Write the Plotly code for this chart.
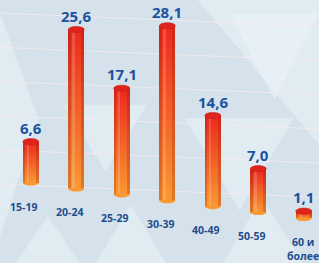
import plotly.graph_objects as go

# ---- data ----
categories = ["15-19", "20-24", "25-29", "30-39", "40-49", "50-59", "60 и<br>более"]
values = [6.6, 25.6, 17.1, 28.1, 14.6, 7.0, 1.1]
value_labels = ["6,6", "25,6", "17,1", "28,1", "14,6", "7,0", "1,1"]

# ---- style ----
SKEW = 0.95          # perspective drop of the floor per category (y units)
BAR_W = 0.35
CAP = 0.49           # half height of the cylinder ellipses (y units)
N_SEG = 24
TOP_RGB = (236, 40, 30)
BOT_RGB = (250, 152, 50)
BG = "#d5e2eb"
LABEL_BLUE = "#1b53a0"
CAT_BLUE = "#1f4d8c"

n = len(categories)
bases = [-SKEW * i for i in range(n)]
tops = [b + v for b, v in zip(bases, values)]
xs = list(range(n))


def mix(t):
    r = [round(BOT_RGB[k] + (TOP_RGB[k] - BOT_RGB[k]) * t) for k in range(3)]
    return f"rgb({r[0]},{r[1]},{r[2]})"


fig = go.Figure()

# gradient cylinders built from stacked slices
for j in range(N_SEG):
    t = (j + 0.5) / N_SEG
    fig.add_trace(go.Bar(
        x=xs,
        y=[v / N_SEG * 1.02 for v in values],
        base=[b + v * j / N_SEG for b, v in zip(bases, values)],
        width=BAR_W,
        marker=dict(color=mix(t), line=dict(width=0)),
        hoverinfo="skip", showlegend=False,
    ))

# cylinder shading: dark edges + highlight
fig.add_trace(go.Bar(x=xs, y=values, base=bases, width=0.05, offset=-BAR_W / 2,
                     marker=dict(color="rgba(120,20,0,0.22)", line=dict(width=0)),
                     hoverinfo="skip", showlegend=False))
fig.add_trace(go.Bar(x=xs, y=values, base=bases, width=0.07, offset=BAR_W / 2 - 0.07,
                     marker=dict(color="rgba(120,20,0,0.22)", line=dict(width=0)),
                     hoverinfo="skip", showlegend=False))
fig.add_trace(go.Bar(x=xs, y=values, base=bases, width=0.06, offset=-0.09,
                     marker=dict(color="rgba(255,255,255,0.16)", line=dict(width=0)),
                     hoverinfo="skip", showlegend=False))

shapes = []
# background decoration (translucent lattice triangles)
tri = [
    [(0.00, 0.10), (0.12, 0.55), (0.00, 0.95)],
    [(0.30, 0.00), (0.52, 0.00), (0.41, 0.22)],
    [(0.58, 0.55), (0.75, 0.20), (0.92, 0.55)],
    [(0.72, 0.95), (0.86, 0.62), (1.00, 0.95)],
    [(0.62, 1.00), (1.00, 1.00), (1.00, 0.45)],
    [(0.20, 0.60), (0.33, 0.35), (0.46, 0.60)],
    [(0.05, 0.00), (0.25, 0.00), (0.15, 0.18)],
    [(0.70, 0.00), (0.95, 0.00), (0.82, 0.25)],
]
for p in tri:
    path = "M " + " L ".join(f"{x},{y}" for x, y in p) + " Z"
    shapes.append(dict(type="path", xref="paper", yref="paper", path=path,
                       fillcolor="rgba(240,246,250,0.45)", line=dict(width=0), layer="below"))
# faint perspective guide lines
for y0 in [0.95, 0.82, 0.69, 0.56, 0.43, 0.30]:
    shapes.append(dict(type="line", xref="paper", yref="paper", x0=0, x1=1,
                       y0=y0, y1=y0 - 0.05, line=dict(color="rgba(250,236,236,0.75)", width=1),
                       layer="below"))

# bottom and top ellipses of each cylinder
for i in range(n):
    shapes.append(dict(type="circle", xref="x", yref="y", layer="below",
                       x0=i - BAR_W / 2, x1=i + BAR_W / 2,
                       y0=bases[i] - CAP, y1=bases[i] + CAP,
                       fillcolor=mix(0), line=dict(width=0)))
    shapes.append(dict(type="circle", xref="x", yref="y", layer="above",
                       x0=i - BAR_W / 2, x1=i + BAR_W / 2,
                       y0=tops[i] - CAP, y1=tops[i] + CAP,
                       fillcolor="rgb(222,36,28)", line=dict(color="rgb(200,30,22)", width=0.6)))

annotations = []
for i in range(n):
    annotations.append(dict(x=i, y=tops[i], xref="x", yref="y", text=f"<b>{value_labels[i]}</b>",
                            showarrow=False, yanchor="bottom", yshift=2,
                            font=dict(family="Open Sans, Arial", size=15, color=LABEL_BLUE)))
    annotations.append(dict(x=i, y=bases[i], xref="x", yref="y", text=f"<b>{categories[i]}</b>",
                            showarrow=False, yanchor="top", yshift=-15,
                            xshift=-7 if i < n - 1 else -1,
                            font=dict(family="Open Sans, Arial", size=10.5, color=CAT_BLUE)))

fig.update_layout(
    width=319, height=263, autosize=False,
    margin=dict(l=0, r=0, t=0, b=0),
    paper_bgcolor=BG, plot_bgcolor="rgba(0,0,0,0)",
    barmode="overlay", bargap=0,
    xaxis=dict(range=[-0.677, 6.334], visible=False, fixedrange=True),
    yaxis=dict(range=[-12.95, 29.4], visible=False, fixedrange=True),
    shapes=shapes, annotations=annotations,
    showlegend=False,
)

fig.write_html(
    "out.html",
    config={"displayModeBar": False},
    post_script="document.body.style.margin='0';document.body.style.overflow='hidden';",
)
